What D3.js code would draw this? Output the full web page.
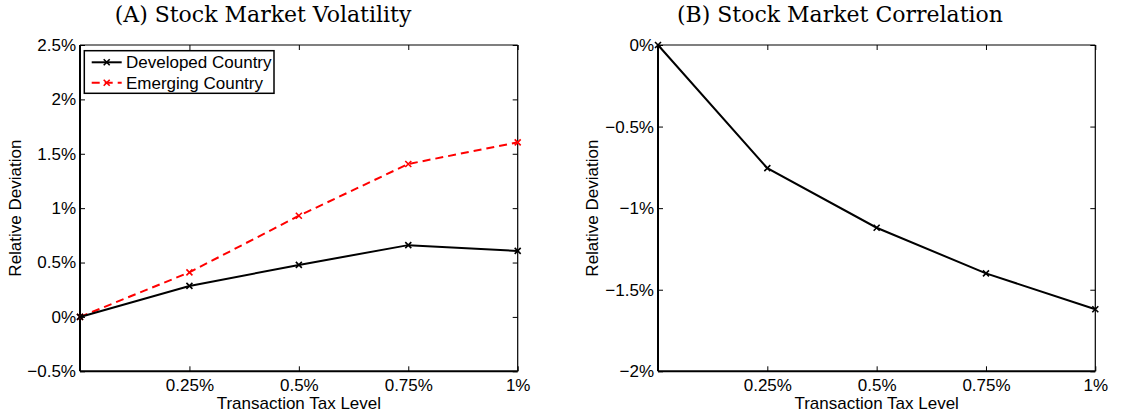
<!DOCTYPE html>
<html><head><meta charset="utf-8">
<script src="https://cdn.jsdelivr.net/npm/d3@7"></script>
<style>body{margin:0;background:#fff}svg{display:block}</style>
</head><body><svg id="c" width="1125" height="417"></svg>
<script>
const taxLevels = [0, 0.25, 0.5, 0.75, 1];
const developed = [0, 0.285, 0.478, 0.66, 0.607];
const emerging = [0, 0.41, 0.93, 1.406, 1.605];
const correlation = [0, -0.755, -1.12, -1.40, -1.62];
const xTicks = [0.25, 0.5, 0.75, 1];
const xTickLabels = ["0.25%", "0.5%", "0.75%", "1%"];
const yTicksA = [-0.5, 0, 0.5, 1, 1.5, 2, 2.5];
const yTickLabelsA = ["\u22120.5%", "0%", "0.5%", "1%", "1.5%", "2%", "2.5%"];
const yTicksB = [-2, -1.5, -1, -0.5, 0];
const yTickLabelsB = ["\u22122%", "\u22121.5%", "\u22121%", "\u22120.5%", "0%"];
const titles = ["(A) Stock Market Volatility", "(B) Stock Market Correlation"];
const legendNames = ["Developed Country", "Emerging Country"];

const svg = d3.select("#c");
const plotTop = 45, plotBottom = 371.3;
const sans = "Liberation Sans, Arial, sans-serif";
const fs = 17;

function panel(left, right, yDomain, yTicks, yLabels, title, titleX, ylabX) {
  const x = d3.scaleLinear().domain([0, 1]).range([left, right]);
  const y = d3.scaleLinear().domain(yDomain).range([plotBottom, plotTop]);
  const g = svg.append("g");
  const tl = 5;
  g.append("g").attr("transform", `translate(0,${plotBottom})`)
    .call(d3.axisBottom(x).tickValues(xTicks).tickSize(-tl).tickFormat((d,i)=>xTickLabels[i]).tickPadding(8))
    .call(a => { a.select(".domain").remove(); a.selectAll("line").attr("stroke","#000").attr("stroke-width",1);
      a.selectAll("text").attr("font-family",sans).attr("font-size",fs).attr("fill","#000"); });
  g.append("g").attr("transform", `translate(0,${plotTop})`)
    .call(d3.axisTop(x).tickValues(xTicks).tickSize(-tl).tickFormat(""))
    .call(a => { a.select(".domain").remove(); a.selectAll("line").attr("stroke","#000").attr("stroke-width",1); });
  g.append("g").attr("transform", `translate(${left},0)`)
    .call(d3.axisLeft(y).tickValues(yTicks).tickSize(-tl).tickFormat((d,i)=>yLabels[i]).tickPadding(4))
    .call(a => { a.select(".domain").remove(); a.selectAll("line").attr("stroke","#000").attr("stroke-width",1);
      a.selectAll("text").attr("font-family",sans).attr("font-size",fs).attr("fill","#000"); });
  g.append("g").attr("transform", `translate(${right},0)`)
    .call(d3.axisRight(y).tickValues(yTicks).tickSize(-tl).tickFormat(""))
    .call(a => { a.select(".domain").remove(); a.selectAll("line").attr("stroke","#000").attr("stroke-width",1); });
  g.append("line").attr("x1",left).attr("x2",right).attr("y1",plotTop).attr("y2",plotTop).attr("stroke","#000").attr("stroke-width",1.2);
  g.append("line").attr("x1",right).attr("x2",right).attr("y1",plotTop).attr("y2",plotBottom).attr("stroke","#000").attr("stroke-width",1.2);
  g.append("line").attr("x1",left).attr("x2",left).attr("y1",plotTop).attr("y2",plotBottom).attr("stroke","#000").attr("stroke-width",2);
  g.append("line").attr("x1",left).attr("x2",right).attr("y1",plotBottom).attr("y2",plotBottom).attr("stroke","#000").attr("stroke-width",2);
  svg.append("text").attr("x",titleX).attr("y",22).attr("text-anchor","middle")
    .attr("font-family","DejaVu Serif, serif").attr("font-size",22).text(title);
  svg.append("text").attr("x",(left+right)/2).attr("y",409).attr("text-anchor","middle")
    .attr("font-family",sans).attr("font-size",fs).text("Transaction Tax Level");
  svg.append("text").attr("transform",`translate(${ylabX},${(plotTop+plotBottom)/2}) rotate(-90)`).attr("text-anchor","middle")
    .attr("font-family",sans).attr("font-size",fs).text("Relative Deviation");
  return {x, y, g};
}

function series(p, vals, color, dash) {
  const line = d3.line().x((d,i)=>p.x(taxLevels[i])).y(d=>p.y(d));
  p.g.append("path").datum(vals).attr("d", line).attr("fill","none").attr("stroke",color)
    .attr("stroke-width",2).attr("stroke-dasharray", dash || null);
  const s = 3;
  p.g.append("g").selectAll("path").data(vals).join("path")
    .attr("d",(d,i)=>{const cx=p.x(taxLevels[i]), cy=p.y(d); return `M${cx-s},${cy-s}L${cx+s},${cy+s}M${cx-s},${cy+s}L${cx+s},${cy-s}`;})
    .attr("stroke",color).attr("stroke-width",1.6);
}

const pA = panel(80, 517.7, [-0.5, 2.5], yTicksA, yTickLabelsA, titles[0], 263, 21);
series(pA, emerging, "#ff0000", "8,5");
series(pA, developed, "#000000");

const pB = panel(658, 1095.3, [-2, 0], yTicksB, yTickLabelsB, titles[1], 840, 598);
series(pB, correlation, "#000000");

const lg = svg.append("g");
lg.append("rect").attr("x",84.3).attr("y",50.7).attr("width",189.7).attr("height",42.6)
  .attr("fill","#fff").attr("stroke","#000").attr("stroke-width",1.5);
const legendColors = ["#000000", "#ff0000"];
const legendDash = [null, "8,5"];
legendNames.forEach((name,i)=>{
  const yy = 62.3 + i*20.4;
  lg.append("line").attr("x1",91.7).attr("x2",121.7).attr("y1",yy).attr("y2",yy)
    .attr("stroke",legendColors[i]).attr("stroke-width",2).attr("stroke-dasharray",legendDash[i]);
  const s=3, cx=106.7;
  lg.append("path").attr("d",`M${cx-s},${yy-s}L${cx+s},${yy+s}M${cx-s},${yy+s}L${cx+s},${yy-s}`)
    .attr("stroke",legendColors[i]).attr("stroke-width",1.6);
  lg.append("text").attr("x",126).attr("y",yy).attr("dy","0.36em")
    .attr("font-family",sans).attr("font-size",fs).text(name);
});
</script></body></html>
